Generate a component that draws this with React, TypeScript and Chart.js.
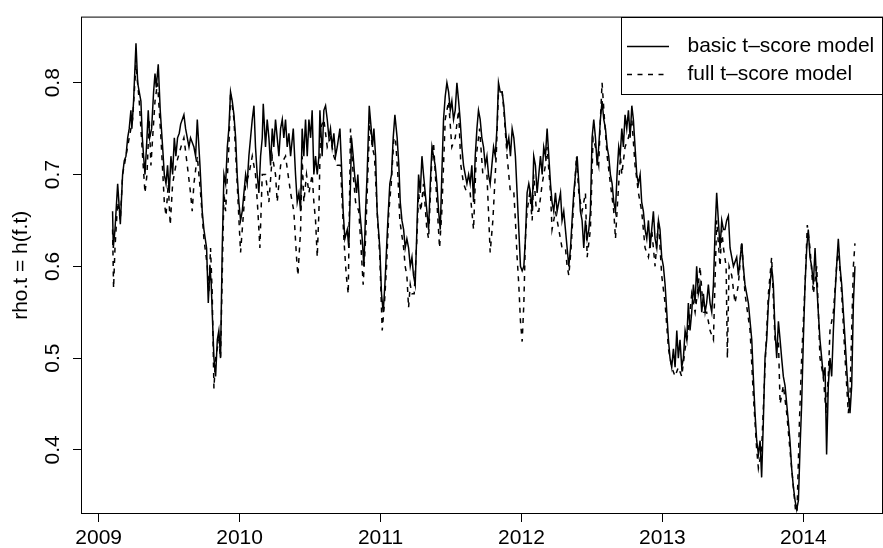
import { useEffect, useRef } from "react";
import { Chart, registerables } from "chart.js";

Chart.register(...registerables);

// ---- data (year, rho.t) ----
const basicPoints: [number, number][] = [
  [2009.099,0.660],[2009.104,0.620],[2009.116,0.640],[2009.135,0.690],[2009.154,0.646],[2009.170,0.700],[2009.182,0.715],[2009.194,0.720],[2009.206,0.740],[2009.217,0.750],
  [2009.229,0.770],[2009.236,0.750],[2009.248,0.780],[2009.265,0.843],[2009.277,0.800],[2009.288,0.790],[2009.300,0.780],[2009.310,0.740],[2009.319,0.720],[2009.329,0.700],
  [2009.343,0.740],[2009.352,0.770],[2009.362,0.740],[2009.376,0.750],[2009.390,0.790],[2009.400,0.810],[2009.409,0.795],[2009.423,0.820],[2009.437,0.770],[2009.454,0.730],
  [2009.466,0.700],[2009.478,0.690],[2009.489,0.710],[2009.501,0.680],[2009.513,0.720],[2009.525,0.700],[2009.537,0.740],[2009.548,0.720],[2009.560,0.740],[2009.572,0.745],
  [2009.582,0.755],[2009.605,0.765],[2009.617,0.750],[2009.641,0.730],[2009.652,0.740],[2009.676,0.730],[2009.688,0.720],[2009.700,0.760],[2009.719,0.710],[2009.735,0.660],
  [2009.747,0.640],[2009.766,0.620],[2009.778,0.560],[2009.790,0.600],[2009.799,0.580],[2009.806,0.550],[2009.818,0.500],[2009.830,0.480],[2009.842,0.520],[2009.853,0.530],
  [2009.865,0.500],[2009.877,0.620],[2009.889,0.700],[2009.901,0.690],[2009.913,0.730],[2009.924,0.750],[2009.936,0.790],[2009.948,0.780],[2009.960,0.765],[2009.972,0.740],
  [2009.983,0.700],[2009.995,0.670],[2010.007,0.650],[2010.019,0.660],[2010.031,0.680],[2010.043,0.700],[2010.054,0.690],[2010.066,0.720],[2010.078,0.740],[2010.090,0.760],
  [2010.102,0.775],[2010.113,0.730],[2010.125,0.700],[2010.137,0.680],[2010.149,0.720],[2010.161,0.740],[2010.168,0.777],[2010.184,0.730],[2010.196,0.760],[2010.208,0.740],
  [2010.220,0.710],[2010.232,0.750],[2010.243,0.730],[2010.255,0.760],[2010.267,0.740],[2010.279,0.720],[2010.291,0.750],[2010.303,0.760],[2010.314,0.740],[2010.326,0.760],
  [2010.338,0.730],[2010.350,0.745],[2010.362,0.720],[2010.381,0.750],[2010.397,0.700],[2010.409,0.670],[2010.421,0.680],[2010.433,0.660],[2010.444,0.750],[2010.456,0.720],
  [2010.468,0.760],[2010.480,0.720],[2010.492,0.760],[2010.504,0.740],[2010.515,0.770],[2010.527,0.700],[2010.539,0.720],[2010.551,0.700],[2010.563,0.720],[2010.570,0.770],
  [2010.586,0.720],[2010.598,0.770],[2010.610,0.775],[2010.622,0.760],[2010.634,0.740],[2010.645,0.750],[2010.657,0.730],[2010.669,0.745],[2010.681,0.720],[2010.693,0.730],
  [2010.712,0.750],[2010.723,0.710],[2010.735,0.660],[2010.747,0.630],[2010.764,0.640],[2010.775,0.620],[2010.787,0.690],[2010.794,0.740],[2010.806,0.720],[2010.816,0.700],
  [2010.830,0.680],[2010.839,0.700],[2010.853,0.660],[2010.870,0.630],[2010.882,0.600],[2010.894,0.660],[2010.905,0.700],[2010.920,0.775],[2010.934,0.750],[2010.943,0.730],
  [2010.953,0.750],[2010.965,0.720],[2010.976,0.660],[2010.995,0.620],[2011.007,0.570],[2011.019,0.550],[2011.031,0.580],[2011.043,0.620],[2011.052,0.650],[2011.066,0.690],
  [2011.078,0.700],[2011.090,0.740],[2011.102,0.765],[2011.118,0.740],[2011.130,0.710],[2011.140,0.670],[2011.152,0.650],[2011.164,0.640],[2011.175,0.620],[2011.187,0.630],
  [2011.199,0.620],[2011.211,0.600],[2011.223,0.610],[2011.234,0.590],[2011.246,0.580],[2011.258,0.640],[2011.270,0.700],[2011.282,0.680],[2011.294,0.720],[2011.305,0.700],
  [2011.317,0.680],[2011.329,0.660],[2011.341,0.640],[2011.353,0.690],[2011.365,0.730],[2011.376,0.720],[2011.388,0.710],[2011.400,0.690],[2011.412,0.660],[2011.424,0.640],
  [2011.435,0.700],[2011.447,0.760],[2011.459,0.785],[2011.471,0.800],[2011.483,0.790],[2011.495,0.770],[2011.506,0.780],[2011.518,0.760],[2011.530,0.770],[2011.542,0.800],
  [2011.554,0.780],[2011.565,0.760],[2011.577,0.730],[2011.589,0.710],[2011.601,0.700],[2011.613,0.690],[2011.625,0.700],[2011.636,0.690],[2011.648,0.710],[2011.660,0.670],
  [2011.672,0.720],[2011.684,0.750],[2011.695,0.770],[2011.707,0.760],[2011.719,0.740],[2011.731,0.730],[2011.743,0.710],[2011.755,0.720],[2011.766,0.700],[2011.778,0.690],
  [2011.790,0.710],[2011.802,0.730],[2011.814,0.720],[2011.826,0.750],[2011.837,0.800],[2011.849,0.790],[2011.863,0.790],[2011.875,0.775],[2011.887,0.750],[2011.898,0.730],
  [2011.910,0.740],[2011.922,0.720],[2011.934,0.750],[2011.946,0.740],[2011.957,0.720],[2011.969,0.680],[2011.981,0.640],[2011.993,0.600],[2012.005,0.595],[2012.017,0.600],
  [2012.028,0.630],[2012.040,0.680],[2012.052,0.690],[2012.064,0.680],[2012.076,0.660],[2012.087,0.720],[2012.099,0.710],[2012.111,0.680],[2012.123,0.700],[2012.135,0.720],
  [2012.147,0.700],[2012.158,0.730],[2012.170,0.720],[2012.182,0.750],[2012.194,0.720],[2012.206,0.690],[2012.217,0.670],[2012.229,0.660],[2012.241,0.680],[2012.253,0.660],
  [2012.265,0.670],[2012.277,0.680],[2012.288,0.650],[2012.300,0.660],[2012.312,0.640],[2012.324,0.620],[2012.336,0.600],[2012.348,0.620],[2012.359,0.650],[2012.371,0.680],
  [2012.383,0.700],[2012.395,0.720],[2012.407,0.690],[2012.418,0.660],[2012.430,0.650],[2012.442,0.620],[2012.454,0.650],[2012.466,0.630],[2012.478,0.640],[2012.489,0.660],
  [2012.501,0.740],[2012.513,0.760],[2012.525,0.740],[2012.537,0.710],[2012.548,0.730],[2012.560,0.760],[2012.572,0.780],[2012.584,0.760],[2012.596,0.750],[2012.608,0.730],
  [2012.619,0.720],[2012.631,0.700],[2012.643,0.690],[2012.655,0.670],[2012.667,0.660],[2012.678,0.700],[2012.690,0.730],[2012.700,0.720],[2012.712,0.750],[2012.723,0.730],
  [2012.735,0.765],[2012.747,0.750],[2012.759,0.770],[2012.771,0.740],[2012.783,0.775],[2012.794,0.760],[2012.806,0.730],[2012.818,0.700],[2012.830,0.690],[2012.842,0.700],
  [2012.853,0.670],[2012.865,0.660],[2012.877,0.640],[2012.889,0.630],[2012.901,0.650],[2012.913,0.620],[2012.924,0.640],[2012.936,0.660],[2012.948,0.630],[2012.960,0.620],
  [2012.972,0.650],[2012.983,0.640],[2012.995,0.610],[2013.007,0.600],[2013.019,0.580],[2013.031,0.550],[2013.043,0.520],[2013.054,0.500],[2013.066,0.490],[2013.078,0.510],
  [2013.090,0.490],[2013.102,0.530],[2013.113,0.500],[2013.125,0.520],[2013.137,0.490],[2013.149,0.500],[2013.161,0.530],[2013.173,0.520],[2013.184,0.560],[2013.196,0.530],
  [2013.208,0.550],[2013.220,0.580],[2013.232,0.560],[2013.243,0.600],[2013.255,0.570],[2013.267,0.580],[2013.279,0.550],[2013.291,0.570],[2013.303,0.550],[2013.314,0.560],
  [2013.326,0.580],[2013.338,0.560],[2013.350,0.550],[2013.362,0.580],[2013.374,0.640],[2013.385,0.680],[2013.397,0.650],[2013.409,0.620],[2013.421,0.650],[2013.433,0.640],
  [2013.444,0.640],[2013.456,0.650],[2013.468,0.655],[2013.480,0.620],[2013.504,0.600],[2013.527,0.610],[2013.539,0.590],[2013.563,0.625],[2013.574,0.600],[2013.586,0.580],
  [2013.610,0.560],[2013.622,0.540],[2013.634,0.520],[2013.645,0.480],[2013.657,0.440],[2013.669,0.410],[2013.681,0.395],[2013.693,0.410],[2013.704,0.370],[2013.716,0.430],
  [2013.728,0.500],[2013.740,0.520],[2013.752,0.560],[2013.764,0.580],[2013.775,0.600],[2013.787,0.580],[2013.799,0.530],[2013.811,0.500],[2013.823,0.540],[2013.835,0.520],
  [2013.846,0.500],[2013.858,0.480],[2013.870,0.470],[2013.882,0.450],[2013.894,0.430],[2013.905,0.410],[2013.917,0.380],[2013.929,0.360],[2013.941,0.345],[2013.953,0.335],
  [2013.965,0.345],[2013.976,0.400],[2013.988,0.450],[2014.000,0.520],[2014.012,0.580],[2014.024,0.620],[2014.035,0.640],[2014.047,0.610],[2014.059,0.600],[2014.071,0.580],
  [2014.083,0.620],[2014.095,0.580],[2014.106,0.550],[2014.118,0.520],[2014.130,0.500],[2014.142,0.480],[2014.154,0.490],[2014.165,0.395],[2014.177,0.470],[2014.189,0.500],
  [2014.201,0.480],[2014.213,0.530],[2014.225,0.570],[2014.236,0.600],[2014.248,0.630],[2014.260,0.600],[2014.272,0.580],[2014.284,0.550],[2014.296,0.520],[2014.307,0.490],
  [2014.319,0.460],[2014.331,0.440],[2014.343,0.470],[2014.355,0.560],[2014.366,0.600],
];

const fullPoints: [number, number][] = [
  [2009.099,0.640],[2009.106,0.576],[2009.116,0.620],[2009.135,0.670],[2009.154,0.650],[2009.170,0.700],[2009.194,0.720],[2009.217,0.740],[2009.241,0.760],[2009.253,0.790],
  [2009.265,0.820],[2009.288,0.780],[2009.312,0.720],[2009.329,0.680],[2009.343,0.700],[2009.359,0.760],[2009.371,0.710],[2009.383,0.740],[2009.400,0.780],[2009.418,0.800],
  [2009.442,0.740],[2009.466,0.670],[2009.478,0.655],[2009.494,0.690],[2009.508,0.645],[2009.525,0.690],[2009.548,0.710],[2009.584,0.730],[2009.605,0.740],[2009.629,0.710],
  [2009.652,0.680],[2009.664,0.660],[2009.676,0.690],[2009.700,0.720],[2009.723,0.680],[2009.747,0.630],[2009.771,0.600],[2009.782,0.570],[2009.794,0.620],[2009.806,0.570],
  [2009.818,0.467],[2009.830,0.500],[2009.853,0.520],[2009.865,0.500],[2009.889,0.680],[2009.901,0.660],[2009.924,0.730],[2009.936,0.790],[2009.960,0.760],[2009.983,0.690],
  [2010.007,0.615],[2010.019,0.640],[2010.043,0.690],[2010.066,0.700],[2010.090,0.720],[2010.113,0.700],[2010.130,0.660],[2010.144,0.620],[2010.161,0.700],[2010.184,0.700],
  [2010.208,0.670],[2010.232,0.720],[2010.255,0.700],[2010.267,0.670],[2010.291,0.710],[2010.326,0.720],[2010.362,0.680],[2010.385,0.660],[2010.404,0.610],[2010.414,0.590],
  [2010.433,0.640],[2010.444,0.720],[2010.456,0.670],[2010.475,0.700],[2010.492,0.680],[2010.515,0.700],[2010.527,0.670],[2010.539,0.650],[2010.551,0.610],[2010.563,0.660],
  [2010.574,0.750],[2010.598,0.760],[2010.622,0.730],[2010.645,0.740],[2010.669,0.720],[2010.693,0.710],[2010.716,0.710],[2010.728,0.670],[2010.740,0.630],[2010.757,0.590],
  [2010.771,0.570],[2010.787,0.750],[2010.806,0.700],[2010.823,0.670],[2010.846,0.660],[2010.858,0.630],[2010.877,0.580],[2010.894,0.630],[2010.910,0.700],[2010.924,0.760],
  [2010.941,0.730],[2010.957,0.720],[2010.976,0.660],[2010.995,0.610],[2011.012,0.530],[2011.028,0.560],[2011.043,0.600],[2011.059,0.660],[2011.076,0.690],[2011.095,0.740],
  [2011.106,0.740],[2011.123,0.700],[2011.137,0.650],[2011.164,0.620],[2011.175,0.600],[2011.187,0.590],[2011.199,0.555],[2011.211,0.580],[2011.223,0.570],[2011.239,0.570],
  [2011.258,0.630],[2011.270,0.680],[2011.286,0.660],[2011.305,0.690],[2011.329,0.640],[2011.341,0.630],[2011.365,0.720],[2011.376,0.735],[2011.400,0.670],[2011.419,0.620],
  [2011.435,0.660],[2011.459,0.760],[2011.483,0.780],[2011.506,0.730],[2011.530,0.740],[2011.554,0.770],[2011.570,0.710],[2011.589,0.690],[2011.613,0.680],[2011.636,0.680],
  [2011.660,0.640],[2011.679,0.720],[2011.703,0.750],[2011.726,0.700],[2011.755,0.700],[2011.778,0.615],[2011.797,0.650],[2011.821,0.720],[2011.837,0.790],[2011.863,0.790],
  [2011.875,0.770],[2011.898,0.720],[2011.922,0.680],[2011.946,0.680],[2011.957,0.650],[2011.969,0.610],[2011.981,0.580],[2011.993,0.540],[2012.005,0.518],[2012.017,0.560],
  [2012.028,0.630],[2012.040,0.660],[2012.059,0.680],[2012.076,0.650],[2012.087,0.700],[2012.106,0.660],[2012.123,0.660],[2012.147,0.690],[2012.170,0.710],[2012.182,0.730],
  [2012.206,0.680],[2012.217,0.640],[2012.241,0.660],[2012.265,0.640],[2012.288,0.620],[2012.312,0.620],[2012.324,0.600],[2012.336,0.590],[2012.352,0.620],[2012.371,0.670],
  [2012.390,0.720],[2012.407,0.680],[2012.430,0.660],[2012.454,0.680],[2012.466,0.610],[2012.489,0.640],[2012.508,0.740],[2012.525,0.730],[2012.548,0.710],[2012.560,0.760],
  [2012.572,0.800],[2012.589,0.760],[2012.608,0.720],[2012.631,0.690],[2012.655,0.660],[2012.667,0.630],[2012.678,0.660],[2012.702,0.720],[2012.712,0.700],[2012.735,0.730],
  [2012.759,0.740],[2012.783,0.760],[2012.806,0.710],[2012.830,0.680],[2012.853,0.660],[2012.877,0.620],[2012.901,0.610],[2012.924,0.640],[2012.948,0.600],[2012.972,0.650],
  [2012.995,0.590],[2013.019,0.560],[2013.043,0.510],[2013.066,0.490],[2013.090,0.480],[2013.113,0.490],[2013.137,0.480],[2013.161,0.510],[2013.184,0.530],[2013.208,0.570],
  [2013.232,0.550],[2013.255,0.580],[2013.267,0.600],[2013.291,0.550],[2013.314,0.550],[2013.338,0.530],[2013.362,0.520],[2013.385,0.650],[2013.409,0.600],[2013.421,0.640],
  [2013.433,0.620],[2013.452,0.600],[2013.461,0.500],[2013.473,0.600],[2013.492,0.590],[2013.515,0.560],[2013.539,0.580],[2013.563,0.627],[2013.586,0.570],[2013.622,0.530],
  [2013.645,0.460],[2013.669,0.400],[2013.681,0.380],[2013.704,0.400],[2013.728,0.490],[2013.752,0.570],[2013.775,0.610],[2013.799,0.520],[2013.823,0.520],[2013.835,0.450],
  [2013.858,0.470],[2013.882,0.440],[2013.905,0.400],[2013.929,0.360],[2013.953,0.320],[2013.972,0.430],[2013.988,0.500],[2014.012,0.580],[2014.028,0.645],[2014.047,0.620],
  [2014.071,0.570],[2014.095,0.600],[2014.118,0.500],[2014.142,0.480],[2014.161,0.440],[2014.177,0.480],[2014.189,0.530],[2014.213,0.550],[2014.236,0.600],[2014.248,0.620],
  [2014.272,0.570],[2014.296,0.500],[2014.319,0.440],[2014.331,0.460],[2014.355,0.600],[2014.366,0.625],
];

const seriesLabels = ["basic t\u2013score model", "full t\u2013score model"];
const xTickValues = [2009, 2010, 2011, 2012, 2013, 2014];
const yTickValues = [0.4, 0.5, 0.6, 0.7, 0.8];
const yTitle = "rho.t = h(f.t)";

const X_MIN = 2008.882;
const X_MAX = 2014.558;
const Y_MIN = 0.3312;
const Y_MAX = 0.871;

const FONT = '"Liberation Sans", Arial, Helvetica, sans-serif';
const FONT_SIZE = 21;
const LINE_W = 1.5;
const DASH = [5, 5.5];

const frameAndLegend = {
  id: "frameAndLegend",
  afterDatasetsDraw(chart: any) {
    const { ctx, chartArea: a } = chart;
    ctx.save();
    // legend box (top-right, inside plot region)
    const lw = 260;
    const lh = 77;
    const lx = a.right - lw;
    const ly = a.top;
    ctx.fillStyle = "#ffffff";
    ctx.fillRect(lx, ly, lw, lh);
    ctx.strokeStyle = "#000";
    ctx.lineWidth = 1;
    ctx.strokeRect(Math.round(lx) - 0.5, Math.round(ly) - 0.5, lw + 1, lh);
    const rows = [ly + 29, ly + 57];
    chart.data.datasets.forEach((ds: any, i: number) => {
      const y = rows[i];
      ctx.beginPath();
      ctx.setLineDash(ds.borderDash || []);
      ctx.lineWidth = LINE_W;
      ctx.strokeStyle = "#000";
      ctx.moveTo(lx + 5, y);
      ctx.lineTo(lx + 47, y);
      ctx.stroke();
      ctx.setLineDash([]);
      ctx.fillStyle = "#000";
      ctx.font = `${FONT_SIZE}px ${FONT}`;
      ctx.textAlign = "left";
      ctx.textBaseline = "middle";
      ctx.fillText(ds.label, lx + 65.5, y);
    });
    // plot frame
    ctx.lineWidth = 1;
    ctx.strokeStyle = "#000";
    ctx.strokeRect(a.left - 0.5, a.top - 0.5, a.right - a.left + 1, a.bottom - a.top + 1);
    ctx.restore();
  },
};

export default function App() {
  const ref = useRef<HTMLCanvasElement>(null);

  useEffect(() => {
    const canvas = ref.current;
    if (!canvas) return;
    const tickFont = { family: FONT, size: FONT_SIZE };
    const chart = new Chart(canvas, {
      type: "line",
      data: {
        datasets: [
          {
            label: seriesLabels[0],
            data: basicPoints.map(([x, y]) => ({ x, y })),
            borderColor: "#000",
            borderWidth: LINE_W,
            pointRadius: 0,
            tension: 0,
            fill: false,
            order: 2,
          },
          {
            label: seriesLabels[1],
            data: fullPoints.map(([x, y]) => ({ x, y })),
            borderColor: "#000",
            borderWidth: LINE_W,
            borderDash: DASH,
            pointRadius: 0,
            tension: 0,
            fill: false,
            order: 1,
          },
        ],
      },
      options: {
        responsive: false,
        animation: false,
        devicePixelRatio: 1,
        events: [],
        layout: { padding: { left: 0, right: 1, top: 11, bottom: 0 } },
        plugins: {
          legend: { display: false },
          tooltip: { enabled: false },
        },
        scales: {
          x: {
            type: "linear",
            bounds: "data",
            min: X_MIN,
            max: X_MAX,
            afterBuildTicks: (s: any) => {
              s.ticks = xTickValues.map((v) => ({ value: v }));
            },
            afterFit: (s: any) => {
              s.height = 35;
            },
            grid: { drawOnChartArea: false, drawTicks: true, tickLength: 9, color: "#000", lineWidth: 1 },
            border: { display: false },
            ticks: {
              color: "#000",
              font: tickFont,
              padding: 4,
              maxRotation: 0,
              autoSkip: false,
              callback: (v: any) => String(v),
            },
          },
          y: {
            type: "linear",
            bounds: "data",
            min: Y_MIN,
            max: Y_MAX,
            afterBuildTicks: (s: any) => {
              s.ticks = yTickValues.map((v) => ({ value: v }));
            },
            afterFit: (s: any) => {
              s.width = 82;
            },
            grid: { drawOnChartArea: false, drawTicks: true, tickLength: 9, color: "#000", lineWidth: 1 },
            border: { display: false },
            ticks: {
              color: "#000",
              font: tickFont,
              padding: 5,
              minRotation: 90,
              maxRotation: 90,
              crossAlign: "center",
              autoSkip: false,
              callback: (v: any) => Number(v).toFixed(1),
            },
            title: {
              display: true,
              text: yTitle,
              color: "#000",
              font: tickFont,
              padding: { top: 9, bottom: 0 },
            },
          },
        },
      },
      plugins: [frameAndLegend],
    } as any);
    return () => chart.destroy();
  }, []);

  return (
    <div style={{ position: "absolute", left: 0, top: 0, width: 883, height: 548, background: "#fff" }}>
      <canvas ref={ref} width={883} height={548} style={{ display: "block", width: 883, height: 548 }} />
    </div>
  );
}
